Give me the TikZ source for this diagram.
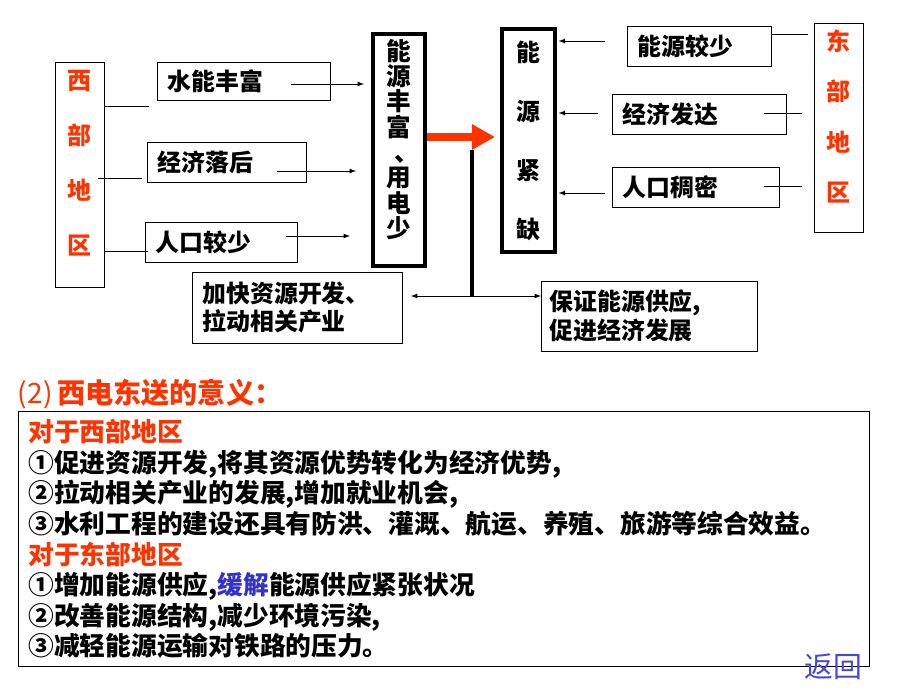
\documentclass[tikz,border=0pt]{standalone}
\usepackage{fontspec}
\setmainfont{Noto Sans CJK SC}
\usetikzlibrary{arrows,arrows.meta}
\definecolor{diqu}{RGB}{255,51,0}
\definecolor{huan}{RGB}{51,51,204}
\definecolor{fanhuise}{RGB}{70,70,220}
\tikzset{
  kuang/.style={draw,line width=0.6pt,inner xsep=0.25cm,inner ysep=0pt,anchor=west,align=left,
    font=\bfseries\fontsize{17}{20.5}\selectfont},
  cukuang/.style={draw,line width=2.2pt,inner sep=0pt},
  shuzi/.style={align=center,inner sep=0pt},
  xian/.style={line width=0.6pt},
  jian/.style={line width=0.6pt,-latex},
}

\begin{document}
\begin{tikzpicture}[x=0.025cm,y=-0.025cm]
\useasboundingbox (0,0) rectangle (920,690);

% west side
\node[draw,line width=0.6pt,minimum width=1.225cm,minimum height=5.625cm] (xibox) at (79.5,174.5) {};
\node[shuzi,diqu,font=\bfseries\fontsize{17}{39}\selectfont] (xi) at (79.5,163) {西\\部\\地\\区};
\node[kuang,minimum width=4.325cm,minimum height=0.95cm,text width=3.825cm] (shui) at (157,81) {水能丰富};
\node[kuang,minimum width=3.975cm,minimum height=1cm,text width=3.475cm] (luohou) at (147,162) {经济落后};
\node[kuang,minimum width=3.8cm,minimum height=1cm,text width=3.3cm] (jiaoshao) at (145,242) {人口较少};

% middle
\node[cukuang,minimum width=1.3cm,minimum height=5.8cm] (fengfu) at (399,150) {};
\node[shuzi,font=\bfseries\fontsize{17.5}{18}\selectfont] (fengfuwz) at (399,139.5)
  {能\\源\\丰\\富\\\makebox[1em][l]{\hspace{0.3em}\makebox[0.6em][l]{、}}\\用\\电\\少};
\node[cukuang,align=center,font=\bfseries\fontsize{17}{42}\selectfont,minimum width=1.325cm,minimum height=5.575cm] (jinque) at (528.5,140.5) {能\\源\\紧\\缺};

\draw[diqu,line width=0.2cm,-{Triangle[length=0.575cm,width=0.6cm]}] (fengfu.east |- 0,137) -- (495,137);

% east side
\node[draw,line width=0.6pt,minimum width=1.225cm,minimum height=5.225cm] (dongbox) at (838.5,127.5) {};
\node[shuzi,diqu,font=\bfseries\fontsize{17}{36}\selectfont] (dong) at (838.5,116.5) {东\\部\\地\\区};
\node[kuang,minimum width=3.6cm,minimum height=1cm,text width=3.1cm] (jiaoshao2) at (627,46) {能源较少};
\node[kuang,minimum width=4.35cm,minimum height=1cm,text width=3.85cm] (fada) at (612,114) {经济发达};
\node[kuang,minimum width=4.175cm,minimum height=1cm,text width=3.675cm] (choumi) at (612,187) {人口稠密};

% results
\node[kuang,minimum width=5.25cm,minimum height=1.775cm,text width=4.75cm] (kaifa) at (192,307.5) {加快资源开发、\\拉动相关产业};
\node[kuang,inner xsep=0.2cm,minimum width=5.4cm,minimum height=1.75cm,text width=5cm] (gongying) at (541,316) {保证能源供应,\\促进经济发展};

% connectors
\coordinate (x1) at (149,106);
\coordinate (x2a) at (98,178);
\coordinate (x2) at (142,178);
\coordinate (x3) at (148,251);
\draw[xian] (xibox.east |- x1) -- (x1);
\draw[xian] (x2a) -- (x2);
\draw[xian] (xibox.east |- x3) -- (x3);

\coordinate (a1) at (291,84);  \coordinate (b1) at (364,84);
\coordinate (a2) at (277,171); \coordinate (b2) at (356,171);
\coordinate (a3) at (286,236); \coordinate (b3) at (350,236);
\draw[jian] (a1) -- (b1);
\draw[jian] (a2) -- (b2);
\draw[jian] (a3) -- (b3);

\coordinate (c1) at (605,41);
\coordinate (c2) at (598,113);
\coordinate (c3) at (605,193);
\draw[jian] (c1) -- ([xshift=0.05cm]jinque.east |- c1);
\draw[jian] (c2) -- ([xshift=0.05cm]jinque.east |- c2);
\draw[jian] (c3) -- ([xshift=0.05cm]jinque.east |- c3);

\coordinate (e1) at (808,34);
\coordinate (e2a) at (764,113); \coordinate (e2) at (802,113);
\coordinate (e3a) at (764,186); \coordinate (e3) at (802,186);
\draw[xian] (jiaoshao2.east |- e1) -- (e1);
\draw[xian] (e2a) -- (e2);
\draw[xian] (e3a) -- (e3);

\coordinate (fendian) at (472,150);
\coordinate (fencha) at (472,296);
\draw[line width=2.2pt] (fendian) -- (fencha);
\draw[jian] (fencha) -- ([xshift=0.2cm]kaifa.east |- fencha);
\draw[jian] (fencha) -- (gongying.west |- fencha);

% meaning
\node[anchor=west,diqu,font=\bfseries\fontsize{20}{23}\selectfont] (biaoti) at (13,394) {{\mdseries(2)}\,西电东送的意义：};
\node[draw,line width=0.6pt,anchor=north west,inner xsep=0.25cm,inner ysep=0pt,minimum width=21.275cm,minimum height=6.375cm,
  text width=20.775cm,align=left,font=\bfseries\fontsize{18.3}{21.8}\selectfont] (yiyi) at (18,411)
  {\textcolor{diqu}{对于西部地区}\\
   ①促进资源开发,将其资源优势转化为经济优势,\\
   ②拉动相关产业的发展,增加就业机会,\\
   ③水利工程的建设还具有防洪、灌溉、航运、养殖、旅游等综合效益。\\
   \textcolor{diqu}{对于东部地区}\\
   ①增加能源供应,\textcolor{huan}{缓解}能源供应紧张状况\\
   ②改善能源结构,减少环境污染,\\
   ③减轻能源运输对铁路的压力。};
\node[fanhuise,font=\fontsize{20.5}{24}\selectfont] (fanhui) at (833,667) {返回};
\end{tikzpicture}
\end{document}
